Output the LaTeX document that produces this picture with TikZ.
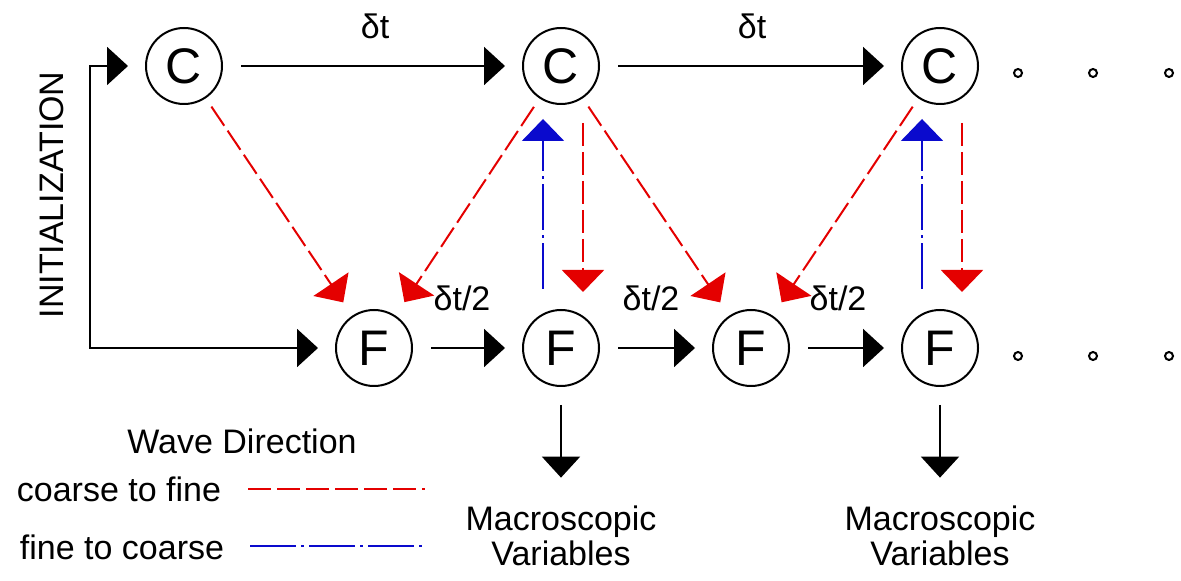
\documentclass[tikz,border=0pt]{standalone}
\usepackage{fontspec}
\setmainfont{Liberation Sans}
\usetikzlibrary{arrows.meta}
\definecolor{cred}{RGB}{228,0,0}
\definecolor{cblue}{RGB}{10,10,205}
\begin{document}
\begin{tikzpicture}[x=0.5pt,y=-0.5pt,
  lbl/.style={font=\fontsize{17}{17.5}\selectfont},
  state/.style={circle,draw,line width=1pt,minimum size=38pt,inner sep=0pt,font=\fontsize{25}{30}\selectfont},
  dotc/.style={circle,draw,line width=1pt,minimum size=4pt,inner sep=0pt},
  arr/.style={line width=1pt,-{Triangle[length=10.5pt,width=19pt]},shorten <=9pt,shorten >=8.5pt},
  c2fline/.style={draw=cred,line width=1pt,dash pattern=on 11.5pt off 3pt},
  f2cline/.style={draw=cblue,line width=1pt,dash pattern=on 23pt off 2.5pt on 1.5pt off 2.5pt},
  c2f/.style={c2fline,-{Triangle[length=11pt,width=21pt,fill=cred]}},
  f2c/.style={f2cline,-{Triangle[length=11pt,width=21pt,fill=cblue]}}
]
\useasboundingbox (0,0) rectangle (1181,581);

% states
\node[state] (C1) at (184,66) {C};
\node[state] (C2) at (561,66) {C};
\node[state] (C3) at (940,66) {C};
\node[state] (F1) at (374,348) {F};
\node[state] (F2) at (561,348) {F};
\node[state] (F3) at (751,348) {F};
\node[state] (F4) at (940,348) {F};

% continuation dots
\node[dotc] (d1) at (1018,73) {};
\node[dotc] (d2) at (1093,73) {};
\node[dotc] (d3) at (1169,73) {};
\node[dotc] (d4) at (1018,356) {};
\node[dotc] (d5) at (1093,356) {};
\node[dotc] (d6) at (1169,356) {};

% labels
\node[lbl] (t1) at (375,26) {δt};
\node[lbl] (t2) at (752,26) {δt};
\node[lbl] (h1) at (462,298) {δt/2};
\node[lbl] (h2) at (651,298) {δt/2};
\node[lbl] (h3) at (838,298) {δt/2};
\node[lbl,rotate=90] (init) at (52,195) {INITIALIZATION};

% time steps
\draw[arr] (C1) -- (C2);
\draw[arr] (C2) -- (C3);
\draw[arr] (F1) -- (F2);
\draw[arr] (F2) -- (F3);
\draw[arr] (F3) -- (F4);

% initialization
\coordinate (ini) at (90,207);
\draw[arr,shorten <=0pt] (ini) |- (C1);
\draw[arr,shorten <=0pt] (ini) |- (F1);

% coarse to fine (diagonal)
\draw[c2f,shorten <=5pt,shorten >=8pt] (C1) -- (F1);
\draw[c2f,shorten <=5pt,shorten >=8pt] (C2) -- (F1);
\draw[c2f,shorten <=5pt,shorten >=8pt] (C2) -- (F3);
\draw[c2f,shorten <=5pt,shorten >=8pt] (C3) -- (F3);

% vertical exchanges
\draw[c2f,shorten <=9pt,shorten >=8.5pt] ([xshift=11pt]C2.south) -- ([xshift=11pt]F2.north);
\draw[f2c,shorten <=10pt,shorten >=7pt] ([xshift=-9pt]F2.north) -- ([xshift=-9pt]C2.south);
\draw[c2f,shorten <=9pt,shorten >=8.5pt] ([xshift=11pt]C3.south) -- ([xshift=11pt]F4.north);
\draw[f2c,shorten <=10pt,shorten >=7pt] ([xshift=-9pt]F4.north) -- ([xshift=-9pt]C3.south);

% macroscopic outputs
\node[lbl,align=center,inner sep=0pt] (M2) at (561,536) {Macroscopic\\Variables};
\node[lbl,align=center,inner sep=0pt] (M4) at (940,536) {Macroscopic\\Variables};
\draw[arr,shorten >=14pt] (F2) -- (M2);
\draw[arr,shorten >=14pt] (F4) -- (M4);

% legend
\node[lbl] (wd) at (242,441) {Wave Direction};
\node[lbl] (lc) at (119,489) {coarse to fine};
\node[lbl] (lf) at (122,547) {fine to coarse};
\coordinate (lcA) at (248,489);
\coordinate (lcB) at (425,489);
\coordinate (lfA) at (250,546);
\coordinate (lfB) at (427,546);
\draw[c2fline,line width=1.3pt] (lcA) -- (lcB);
\draw[f2cline] (lfA) -- (lfB);
\end{tikzpicture}
\end{document}
